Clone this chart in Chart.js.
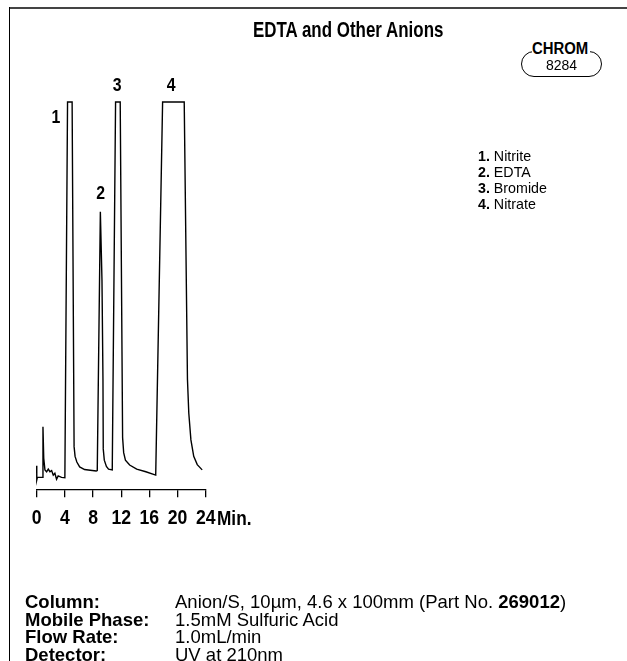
<!DOCTYPE html>
<html>
<head>
<meta charset="utf-8">
<script src="https://cdn.jsdelivr.net/npm/chart.js@4.4.1/dist/chart.umd.min.js"></script>
<style>
  html, body { margin: 0; padding: 0; background: #fff; }
  body { width: 627px; height: 661px; position: relative; overflow: hidden;
         font-family: "Liberation Sans", Arial, sans-serif; color: #000; }
  #wrap { position: absolute; left: 0; top: 0; width: 627px; height: 661px; }
  .abs { position: absolute; white-space: nowrap; }
  .cond { display: inline-block; transform-origin: 0 50%; }
  #frameTop { position: absolute; left: 9px; top: 7px; width: 618px; height: 2px; background: #444; }
  #frameLeft { position: absolute; left: 9px; top: 7px; width: 1px; height: 654px; background: #000; }
  #title { left: 253px; top: 17px; font-weight: bold; font-size: 22px; line-height: 26px; }
  #title .cond { transform: scaleX(0.77); }
  #badge { left: 521px; top: 51px; width: 79px; height: 24px; border: 1.2px solid #000; border-radius: 13px; }
  #badgeTop { left: 532px; top: 40px; font-weight: bold; font-size: 16px; line-height: 17px; background: #fff; width: 58px; overflow: visible; }
  #badgeTop .cond { transform: scaleX(0.93); }
  #badgeNum { left: 546px; top: 57px; font-size: 14px; line-height: 17px; }
  #legend { left: 478px; top: 148px; font-size: 15px; line-height: 16px; }
  #legend .cond { transform: scaleX(0.95); }
  #minLbl { left: 217px; top: 505.5px; font-weight: bold; font-size: 21px; line-height: 24px; }
  #minLbl .cond { transform: scaleX(0.82); }
  #footer { left: 25px; top: 593px; font-size: 18.5px; line-height: 17.5px; }
  #footer .row { position: relative; height: 17.5px; }
  #footer .lab { position: absolute; left: 0; font-weight: bold; }
  #footer .val { position: absolute; left: 150px; }
</style>
</head>
<body>
<div id="frameTop"></div>
<div id="frameLeft"></div>
<div id="wrap"><canvas id="c" width="627" height="661"></canvas></div>
<div class="abs" id="title"><span class="cond">EDTA and Other Anions</span></div>
<div class="abs" id="badge"></div>
<div class="abs" id="badgeTop"><span class="cond">CHROM</span></div>
<div class="abs" id="badgeNum">8284</div>
<div class="abs" id="legend"></div>
<div class="abs" id="minLbl"><span class="cond">Min.</span></div>
<div class="abs" id="footer"></div>
<script>
// ---- data ----
const timeMin = [0, 0.01, 0.1, 0.8, 0.89, 1.0, 1.17, 1.41, 1.64, 1.88, 2.12, 2.35, 2.58, 2.82, 3.05, 3.53, 4.0,
  4.38, 5.03, 5.31, 5.45, 5.7, 6.1, 6.8, 7.6, 8.45,
  8.6, 9.04, 9.27, 9.41, 9.45, 9.6, 9.9, 10.2, 10.73,
  10.78, 11.2, 11.86, 12.2, 12.35, 12.6, 13.2, 14.2, 15.5, 16.9,
  17.88, 20.95, 21.41, 21.6, 21.9, 22.3, 22.8, 23.5];
const signal = [3, -0.8, -0.1, -0.1, 13.4, 5, 1.9, 1.4, 2.1, 1.4, 1.7, 0.5, 1.0, -0.6, 0.3, -0.1, -0.2,
  100, 100, 8.1, 5.5, 4.0, 2.7, 2.0, 1.8, 1.6,
  1.7, 70.7, 52.5, 26, 7.5, 4.5, 2.8, 2.1, 1.9,
  1.9, 100, 100, 10.5, 6.5, 4.5, 3.2, 2.1, 1.4, 0.5,
  100, 100, 26, 17, 9.9, 5.5, 3.3, 1.9];
const xTicks = [0, 4, 8, 12, 16, 20, 24];
const peakNumbers = ['1', '2', '3', '4'];
const peakLabelTime = [2.73, 9.08, 11.44, 19.11];
const peakLabelValue = [95.7, 75.5, 104.3, 104.3];
const compounds = ['Nitrite', 'EDTA', 'Bromide', 'Nitrate'];
const conditionLabels = ['Column:', 'Mobile Phase:', 'Flow Rate:', 'Detector:'];
const conditionValues = ['Anion/S, 10µm, 4.6 x 100mm (Part No. <b>269012</b>)', '1.5mM Sulfuric Acid', '1.0mL/min', 'UV at 210nm'];

const FONT = '"Liberation Sans", Arial, sans-serif';

document.getElementById('legend').innerHTML = compounds.map((c, i) =>
  '<div><span class="cond"><b>' + peakNumbers[i] + '.</b>&nbsp;' + c + '</span></div>').join('');
document.getElementById('footer').innerHTML = conditionLabels.map((l, i) =>
  '<div class="row"><span class="lab">' + l + '</span><span class="val">' + conditionValues[i] + '</span></div>').join('');

const points = timeMin.map((t, i) => ({ x: t, y: signal[i] }));

// condensed text drawing helper for canvas
function condText(ctx, txt, x, y, sx) {
  ctx.save();
  ctx.translate(x, y);
  ctx.scale(sx, 1);
  ctx.fillText(txt, 0, 0);
  ctx.restore();
}

const labelsPlugin = {
  id: 'condLabels',
  afterDraw(chart) {
    const ctx = chart.ctx, xs = chart.scales.x, ys = chart.scales.y;
    ctx.save();
    ctx.fillStyle = '#000';
    ctx.textAlign = 'center';
    ctx.textBaseline = 'middle';
    // peak numbers
    ctx.font = 'bold 18px ' + FONT;
    peakNumbers.forEach((n, i) => {
      condText(ctx, n, xs.getPixelForValue(peakLabelTime[i]), ys.getPixelForValue(peakLabelValue[i]), 0.88);
    });
    // x tick labels (condensed) from the scale's own ticks
    ctx.font = 'bold 21px ' + FONT;
    const yLab = xs.top + 28.5;
    xs.ticks.forEach(t => {
      condText(ctx, String(t.value), xs.getPixelForValue(t.value), yLab, 0.84);
    });
    ctx.restore();
  }
};

new Chart(document.getElementById('c'), {
  type: 'line',
  data: { datasets: [{ data: points, borderColor: '#000', borderWidth: 1.4, pointRadius: 0, tension: 0, fill: false, clip: 6 }] },
  options: {
    responsive: false,
    animation: false,
    events: [],
    layout: { padding: { left: 36.7, right: 421.3, top: 102, bottom: 123.7 } },
    plugins: { legend: { display: false }, tooltip: { enabled: false }, title: { display: false } },
    scales: {
      x: {
        type: 'linear', min: 0, max: 24,
        afterBuildTicks: (s) => { s.ticks = xTicks.map(v => ({ value: v })); },
        ticks: { color: 'rgba(0,0,0,0)', font: { family: FONT, size: 20, weight: 'bold' }, padding: 8, maxRotation: 0, autoSkip: false },
        grid: { display: true, drawOnChartArea: false, drawTicks: true, tickLength: 8, color: '#000', lineWidth: 1.3 },
        border: { display: true, color: '#000', width: 1.3 }
      },
      y: { display: false, min: -3.28, max: 100 }
    }
  },
  plugins: [labelsPlugin]
});
</script>
</body>
</html>
